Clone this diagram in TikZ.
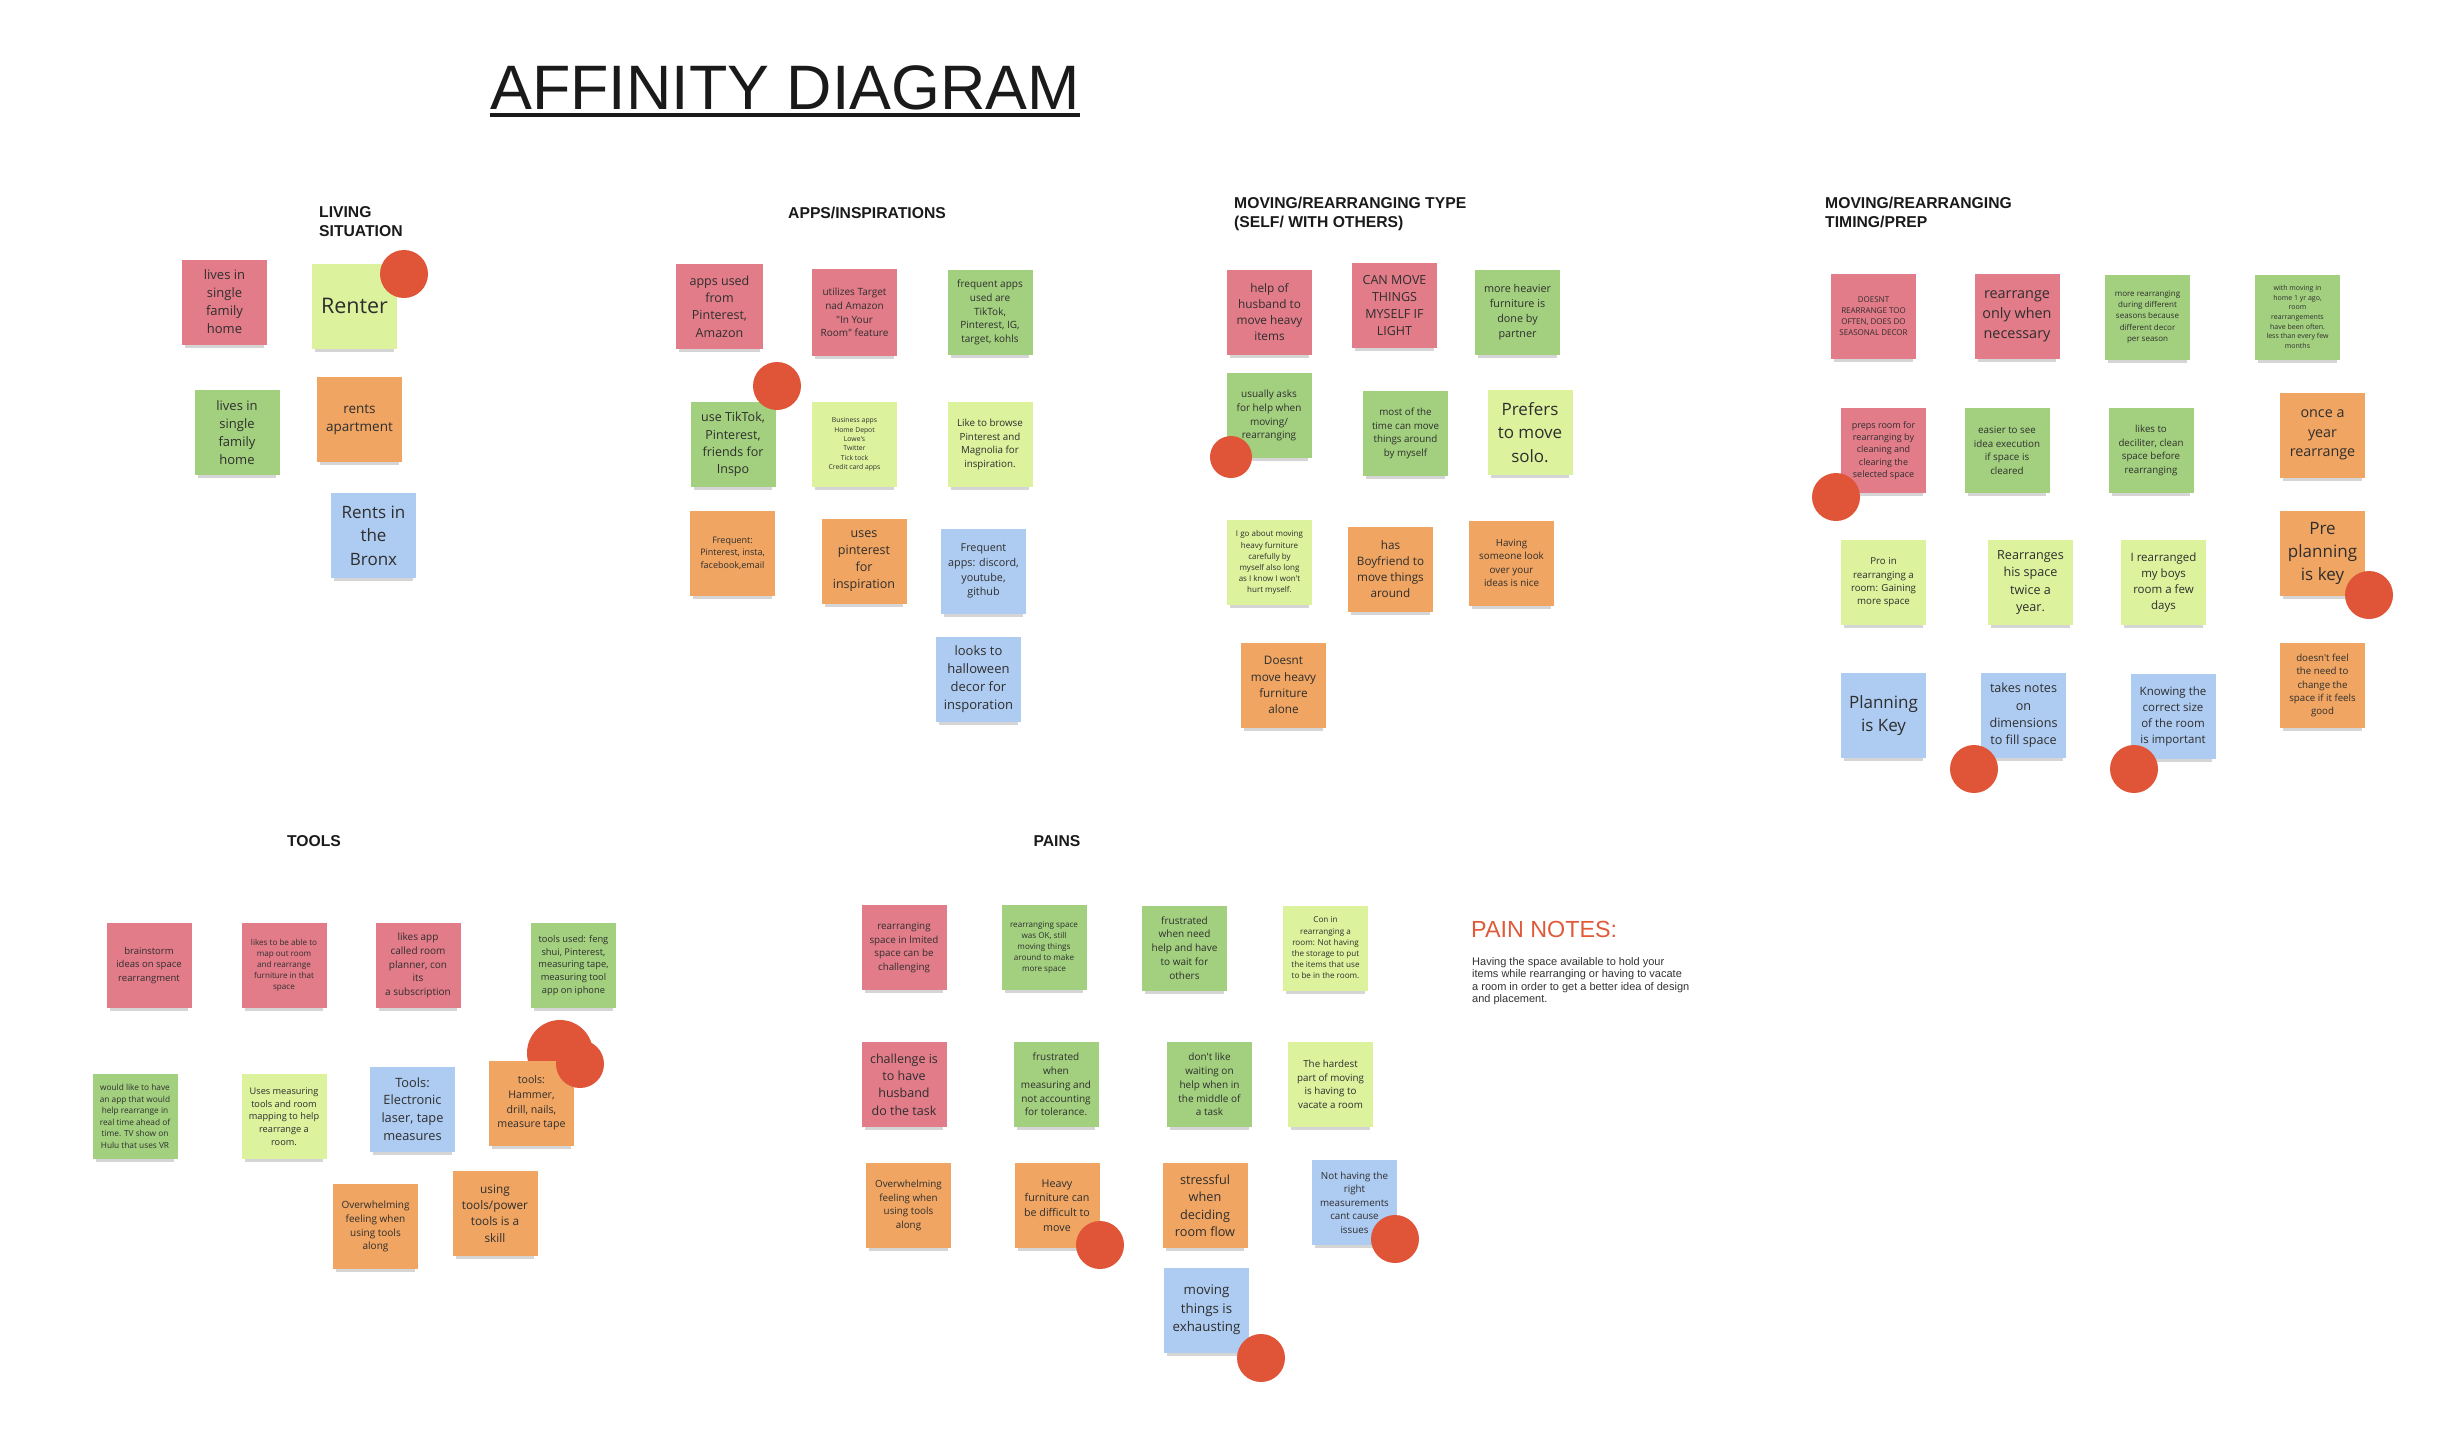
\documentclass[tikz,border=0pt]{standalone}
\usepackage{fontspec}
\usetikzlibrary{shadows}

\newfontfamily\stickyfont{Open Sans}
\newfontfamily\headfont{Liberation Sans}

\definecolor{notePink}{HTML}{E27C89}
\definecolor{noteGreen}{HTML}{A3D07F}
\definecolor{noteLime}{HTML}{DCF29D}
\definecolor{noteOrange}{HTML}{F0A562}
\definecolor{noteBlue}{HTML}{AECBF1}
\definecolor{dotRed}{HTML}{E05538}
\definecolor{noteInk}{HTML}{2E2E2E}
\definecolor{titleInk}{HTML}{1A1A1A}
\definecolor{painInk}{HTML}{E05A3A}

\newcommand{\notesize}[1]{\fontsize{#1}{\fpeval{1.38*#1}}\selectfont}

\begin{document}
\begin{tikzpicture}[
    x=1pt, y=-1pt,
    note/.style={minimum width=85pt, minimum height=85pt, inner sep=1pt,
        align=center, text=noteInk,
        drop shadow={shadow xshift=0pt, shadow yshift=-7pt, shadow scale=0.92,
            opacity=0.22, fill=black!75}},
    notepk/.style={note, fill=notePink},
    notegr/.style={note, fill=noteGreen},
    notelm/.style={note, fill=noteLime},
    noteor/.style={note, fill=noteOrange},
    notebl/.style={note, fill=noteBlue},
    fs/.style={font=\stickyfont\notesize{#1}},
    head/.style={font=\headfont\bfseries\fontsize{15.7}{19}\selectfont,
        text=titleInk, inner sep=0pt, align=left},
]
\fill[white] (0,0) rectangle (2442,1430);
\useasboundingbox (0,0) rectangle (2442,1430);

% Title
\node[anchor=base west, inner sep=0pt, text=titleInk,
    font=\headfont\fontsize{62.8}{70}\selectfont] (title) at (490,109) {AFFINITY DIAGRAM};
\draw[line width=4pt, titleInk] ([yshift=-6pt]title.base west) -- ([yshift=-6pt]title.base east);

% Living situation
\node[head, anchor=north west] (hLiving) at (319,206) {LIVING\\SITUATION};
\node[notepk, fs=13] (liv1) at (224.5,302) {lives in\\single\\family\\home};
\node[notelm, fs=21.5] (liv2) at (354.5,306) {Renter};
\node[notegr, fs=13] (liv3) at (237,432.5) {lives in\\single\\family\\home};
\node[noteor, fs=13.5] (liv4) at (359.5,419.5) {rents\\apartment};
\node[notebl, fs=17] (liv5) at (373.5,535.5) {Rents in\\the\\Bronx};
\fill[dotRed] (404,274) circle (24pt);

% Apps / inspirations
\node[head, anchor=base west] (hApps) at (788,218) {APPS/INSPIRATIONS};
\node[notepk, fs=12.5, minimum width=87pt] (app1) at (719.5,306.5) {apps used\\from\\Pinterest,\\Amazon};
\node[notepk, fs=10, minimum height=87pt] (app2) at (854.5,312.5) {utilizes Target\\nad Amazon\\"In Your\\Room" feature};
\node[notegr, fs=10] (app3) at (990,312.5) {frequent apps\\used are\\TikTok,\\Pinterest, IG,\\target, kohls};
\node[notegr, fs=12.5] (app4) at (733,444.5) {use TikTok,\\Pinterest,\\friends for\\Inspo};
\node[notelm, fs=6.8] (app5) at (854.5,444.5) {Business apps\\Home Depot\\Lowe's\\Twitter\\Tick tock\\Credit card apps};
\node[notelm, fs=9.8] (app6) at (990,444.5) {Like to browse\\Pinterest and\\Magnolia for\\inspiration.};
\node[noteor, fs=9] (app7) at (732.5,553) {Frequent:\\Pinterest, insta,\\facebook,email};
\node[noteor, fs=12.5] (app8) at (864,561) {uses\\pinterest\\for\\inspiration};
\node[notebl, fs=10.8] (app9) at (983.5,571) {Frequent\\apps: discord,\\youtube,\\github};
\node[notebl, fs=13] (app10) at (978.5,679) {looks to\\halloween\\decor for\\insporation};
\fill[dotRed] (777,386) circle (24pt);

% Moving / rearranging type
\node[head, anchor=north west] (hType) at (1234,197) {MOVING/REARRANGING TYPE\\(SELF/ WITH OTHERS)};
\node[notepk, fs=11.8] (typ1) at (1269.5,312) {help of\\husband to\\move heavy\\items};
\node[notepk, fs=12.5] (typ2) at (1394.5,305.5) {CAN MOVE\\THINGS\\MYSELF IF\\LIGHT};
\node[notegr, fs=10.8] (typ3) at (1517.5,312.5) {more heavier\\furniture is\\done by\\partner};
\node[notegr, fs=10] (typ4) at (1269,415.5) {usually asks\\for help when\\moving/\\rearranging};
\node[notegr, fs=9.8] (typ5) at (1405.5,433.5) {most of the\\time can move\\things around\\by myself};
\node[notelm, fs=17] (typ6) at (1530,432.5) {Prefers\\to move\\solo.};
\node[notelm, fs=8] (typ7) at (1269.5,562.5) {I go about moving\\heavy furniture\\carefully by\\myself also long\\as I know I won't\\hurt myself.};
\node[noteor, fs=11.7] (typ8) at (1390.5,569) {has\\Boyfriend to\\move things\\around};
\node[noteor, fs=9.8] (typ9) at (1511.5,563) {Having\\someone look\\over your\\ideas is nice};
\node[noteor, fs=11.7] (typ10) at (1283.5,685) {Doesnt\\move heavy\\furniture\\alone};
\fill[dotRed] (1231,457) circle (21pt);

% Moving / rearranging timing
\node[head, anchor=north west] (hTiming) at (1825,197) {MOVING/REARRANGING\\TIMING/PREP};
\node[notepk, fs=8] (tim1) at (1873.5,316.5) {DOESNT\\REARRANGE TOO\\OFTEN, DOES DO\\SEASONAL DECOR};
\node[notepk, fs=14.4] (tim2) at (2017,316.5) {rearrange\\only when\\necessary};
\node[notegr, fs=8] (tim3) at (2147.5,317) {more rearranging\\during different\\seasons because\\different decor\\per season};
\node[notegr, fs=7] (tim4) at (2297.5,317) {with moving in\\home 1 yr ago,\\room\\rearrangements\\have been often.\\less than every few\\months};
\node[notepk, fs=9] (tim5) at (1883.5,450.5) {preps room for\\rearranging by\\cleaning and\\clearing the\\selected space};
\node[notegr, fs=9.8] (tim6) at (2007,450.5) {easier to see\\idea execution\\if space is\\cleared};
\node[notegr, fs=9.7] (tim7) at (2151,450.5) {likes to\\deciliter, clean\\space before\\rearranging};
\node[noteor, fs=14.3] (tim8) at (2322.5,435) {once a\\year\\rearrange};
\node[noteor, fs=17] (tim9) at (2322.5,553.5) {Pre\\planning\\is key};
\node[notelm, fs=9.7] (tim10) at (1883.5,582.5) {Pro in\\rearranging a\\room: Gaining\\more space};
\node[notelm, fs=12.6] (tim11) at (2030.5,582.5) {Rearranges\\his space\\twice a\\year.};
\node[notelm, fs=11.5] (tim12) at (2163.5,582.5) {I rearranged\\my boys\\room a few\\days};
\node[notebl, fs=17] (tim13) at (1883.5,715.5) {Planning\\is Key};
\node[notebl, fs=12.6] (tim14) at (2023.5,715.5) {takes notes\\on\\dimensions\\to fill space};
\node[notebl, fs=11.5] (tim15) at (2173,716.5) {Knowing the\\correct size\\of the room\\is important};
\node[noteor, fs=9.7] (tim16) at (2322.5,685.5) {doesn't feel\\the need to\\change the\\space if it feels\\good};
\fill[dotRed] (1836,497) circle (24pt);
\fill[dotRed] (2369,595) circle (24pt);
\fill[dotRed] (1974,769) circle (24pt);
\fill[dotRed] (2134,769) circle (24pt);

% Tools
\node[head] (hTools) at (314,841) {TOOLS};
\node[notepk, fs=9.5] (tool1) at (149,965.5) {brainstorm\\ideas on space\\rearrangment};
\node[notepk, fs=8.1] (tool2) at (284,965.5) {likes to be able to\\map out room\\and rearrange\\furniture in that\\space};
\node[notepk, fs=10] (tool3) at (418,965.5) {likes app\\called room\\planner, con\\its\\a subscription};
\node[notegr, fs=9.3] (tool4) at (573.5,965.5) {tools used: feng\\shui, Pinterest,\\measuring tape,\\measuring tool\\app on iphone};
\node[notegr, fs=8.3] (tool5) at (135,1116.5) {would like to have\\an app that would\\help rearrange in\\real time ahead of\\time. TV show on\\Hulu that uses VR};
\node[notelm, fs=9.2] (tool6) at (284,1116.5) {Uses measuring\\tools and room\\mapping to help\\rearrange a\\room.};
\node[notebl, fs=12.8] (tool7) at (412.5,1109) {Tools:\\Electronic\\laser, tape\\measures};
\fill[dotRed] (560,1053) circle (33pt);
\node[noteor, fs=10.6] (tool8) at (531.5,1103) {tools:\\Hammer,\\drill, nails,\\measure tape};
\fill[dotRed] (580,1064) circle (24pt);
\node[noteor, fs=10] (tool9) at (375.5,1226.5) {Overwhelming\\feeling when\\using tools\\along};
\node[noteor, fs=11.8] (tool10) at (495,1213.5) {using\\tools/power\\tools is a\\skill};

% Pains
\node[head] (hPains) at (1057,841) {PAINS};
\node[notepk, fs=9.8] (pain1) at (904,947.5) {rearranging\\space in lmited\\space can be\\challenging};
\node[notegr, fs=8.1] (pain2) at (1044,947.5) {rearranging space\\was OK, still\\moving things\\around to make\\more space};
\node[notegr, fs=10] (pain3) at (1184.5,948) {frustrated\\when need\\help and have\\to wait for\\others};
\node[notelm, fs=8.1] (pain4) at (1325.5,948) {Con in\\rearranging a\\room: Not having\\the storage to put\\the items that use\\to be in the room.};
\node[notepk, fs=12.5] (pain5) at (904,1084.5) {challenge is\\to have\\husband\\do the task};
\node[notegr, fs=10] (pain6) at (1056,1084.5) {frustrated\\when\\measuring and\\not accounting\\for tolerance.};
\node[notegr, fs=10] (pain7) at (1209.5,1084.5) {don't like\\waiting on\\help when in\\the middle of\\a task};
\node[notelm, fs=9.8] (pain8) at (1330.5,1084.5) {The hardest\\part of moving\\is having to\\vacate a room};
\node[noteor, fs=9.8] (pain9) at (908.5,1205.5) {Overwhelming\\feeling when\\using tools\\along};
\node[noteor, fs=10.7] (pain10) at (1057,1205.5) {Heavy\\furniture can\\be difficult to\\move};
\node[noteor, fs=12.7] (pain11) at (1205,1205.5) {stressful\\when\\deciding\\room flow};
\node[notebl, fs=9.8] (pain12) at (1354.5,1202.5) {Not having the\\right\\measurements\\cant cause\\issues};
\node[notebl, fs=13.3] (pain13) at (1206.5,1310) {moving\\things is\\exhausting};
\fill[dotRed] (1100,1245) circle (24pt);
\fill[dotRed] (1395,1239) circle (24pt);
\fill[dotRed] (1261,1358) circle (24pt);

% Pain notes
\node[anchor=base west, inner sep=0pt, text=painInk,
    font=\headfont\fontsize{23.3}{28}\selectfont] (painHead) at (1471,937) {PAIN NOTES:};
\node[anchor=north west, inner sep=0pt, align=left, text=black!80,
    font=\headfont\fontsize{11}{12.2}\selectfont] (painBody) at (1472,957.5)
    {Having the space available to hold your\\items while rearranging or having to vacate\\a room in order to get a better idea of design\\and placement.};

\end{tikzpicture}
\end{document}
